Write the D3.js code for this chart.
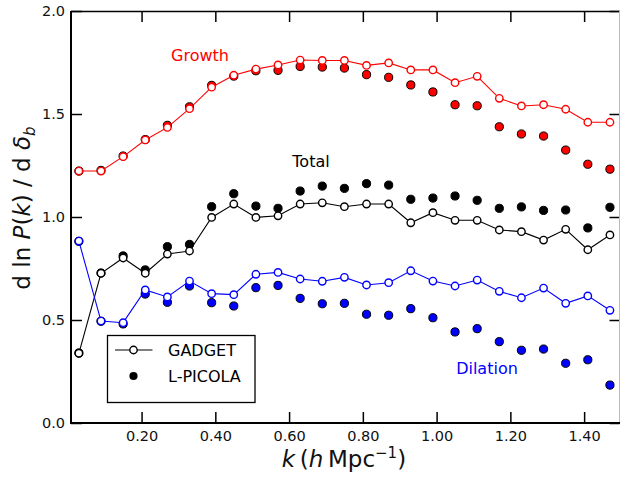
<!DOCTYPE html>
<html>
<head>
<meta charset="utf-8">
<script src="https://cdn.jsdelivr.net/npm/d3@7"></script>
<style>
  html, body { margin: 0; padding: 0; background: #fff; }
  svg { display: block; font-family: "DejaVu Sans", Verdana, sans-serif; }
</style>
</head>
<body>
<svg id="chart" width="620" height="479"></svg>
<script>
// Wavenumbers (h/Mpc)
const kValues = [0.03, 0.09, 0.15, 0.21, 0.27, 0.33, 0.39, 0.45, 0.51, 0.57, 0.63, 0.69, 0.75,
                 0.81, 0.87, 0.93, 0.99, 1.05, 1.11, 1.17, 1.23, 1.29, 1.35, 1.41, 1.47];

// Response of ln P(k) to the background overdensity
const gadgetGrowth   = [1.223, 1.223, 1.293, 1.374, 1.435, 1.526, 1.630, 1.688, 1.718, 1.738, 1.762, 1.760, 1.760,
                        1.736, 1.748, 1.714, 1.714, 1.652, 1.683, 1.576, 1.539, 1.545, 1.523, 1.460, 1.460];
const picolaGrowth   = [1.223, 1.226, 1.296, 1.376, 1.445, 1.535, 1.639, 1.684, 1.710, 1.712, 1.731, 1.728, 1.723,
                        1.691, 1.678, 1.641, 1.607, 1.545, 1.540, 1.438, 1.403, 1.393, 1.325, 1.256, 1.232];
const gadgetTotal    = [0.338, 0.727, 0.801, 0.727, 0.820, 0.835, 0.998, 1.063, 0.998, 1.006, 1.063, 1.069, 1.050,
                        1.063, 1.063, 0.972, 1.021, 0.984, 0.984, 0.937, 0.929, 0.888, 0.940, 0.841, 0.913];
const picolaTotal    = [0.340, 0.728, 0.811, 0.743, 0.856, 0.867, 1.050, 1.113, 1.053, 1.042, 1.126, 1.150, 1.139,
                        1.162, 1.155, 1.086, 1.092, 1.102, 1.081, 1.042, 1.049, 1.032, 1.034, 0.947, 1.047];
const gadgetDilation = [0.883, 0.495, 0.487, 0.646, 0.612, 0.689, 0.628, 0.623, 0.722, 0.731, 0.699, 0.688, 0.707,
                        0.670, 0.681, 0.739, 0.689, 0.665, 0.694, 0.639, 0.608, 0.655, 0.581, 0.617, 0.547];
const picolaDilation = [0.882, 0.494, 0.481, 0.626, 0.586, 0.665, 0.584, 0.568, 0.657, 0.668, 0.605, 0.579, 0.581,
                        0.528, 0.523, 0.555, 0.511, 0.442, 0.458, 0.395, 0.353, 0.359, 0.290, 0.307, 0.184];

const xTicks = [0.2, 0.4, 0.6, 0.8, 1.0, 1.2, 1.4];
const xTickLabels = ["0.20", "0.40", "0.60", "0.80", "1.00", "1.20", "1.40"];
const yTicks = [0.0, 0.5, 1.0, 1.5, 2.0];
const yTickLabels = ["0.0", "0.5", "1.0", "1.5", "2.0"];

const seriesNames = ["Growth", "Total", "Dilation"];
const seriesColors = ["#ff0000", "#000000", "#0000ff"];
const legendLabels = ["GADGET", "L-PICOLA"];

const series = [
  { name: seriesNames[0], color: seriesColors[0], gadget: gadgetGrowth,   picola: picolaGrowth },
  { name: seriesNames[1], color: seriesColors[1], gadget: gadgetTotal,    picola: picolaTotal },
  { name: seriesNames[2], color: seriesColors[2], gadget: gadgetDilation, picola: picolaDilation }
];

const svg = d3.select("#chart");
const plotLeft = 71, plotRight = 619.5, plotTop = 11, plotBottom = 423;

const x = d3.scaleLinear().domain([0.01, 1.50]).range([71.5, 621]);
const y = d3.scaleLinear().domain([0, 2]).range([plotBottom, plotTop]);

// Axes with inward ticks on all four sides
const axB = svg.append("g").attr("transform", `translate(0,${plotBottom})`)
  .call(d3.axisBottom(x).tickValues(xTicks).tickFormat((d, i) => xTickLabels[i])
        .tickSizeInner(-11).tickSizeOuter(0).tickPadding(8));
const axT = svg.append("g").attr("transform", `translate(0,${plotTop})`)
  .call(d3.axisTop(x).tickValues(xTicks).tickFormat("").tickSizeInner(-11).tickSizeOuter(0));
const axL = svg.append("g").attr("transform", `translate(${plotLeft},0)`)
  .call(d3.axisLeft(y).tickValues(yTicks).tickFormat((d, i) => yTickLabels[i])
        .tickSizeInner(-11).tickSizeOuter(0).tickPadding(6));
const axR = svg.append("g").attr("transform", `translate(${plotRight},0)`)
  .call(d3.axisRight(y).tickValues(yTicks).tickFormat("").tickSizeInner(-10).tickSizeOuter(0));

[axB, axT, axL, axR].forEach(a => {
  a.select(".domain").remove();
  a.selectAll(".tick line").attr("stroke", "#000").attr("stroke-width", 1.5);
  a.selectAll(".tick text").attr("font-size", 14.5).attr("fill", "#111")
    .attr("font-family", "'DejaVu Sans', Verdana, sans-serif");
});

// Frame
svg.append("line").attr("x1", plotLeft).attr("x2", 620).attr("y1", plotTop + 0.5).attr("y2", plotTop + 0.5)
  .attr("stroke", "#000").attr("stroke-width", 1.5);
svg.append("line").attr("x1", plotRight).attr("x2", plotRight).attr("y1", plotTop).attr("y2", plotBottom)
  .attr("stroke", "#bbb").attr("stroke-width", 1);
svg.append("line").attr("x1", plotLeft).attr("x2", plotLeft).attr("y1", plotTop).attr("y2", plotBottom + 1)
  .attr("stroke", "#000").attr("stroke-width", 2);
svg.append("line").attr("x1", plotLeft - 1).attr("x2", 620).attr("y1", plotBottom).attr("y2", plotBottom)
  .attr("stroke", "#000").attr("stroke-width", 2);

const plot = svg.append("g");

// L-PICOLA: filled markers
series.forEach(s => {
  plot.append("g").selectAll("circle").data(s.picola).join("circle")
    .attr("cx", (d, i) => x(kValues[i])).attr("cy", d => y(d)).attr("r", 4.1)
    .attr("fill", s.color).attr("stroke", "#000").attr("stroke-width", 1);
});

// GADGET: connected open markers
const line = d3.line().x((d, i) => x(kValues[i])).y(d => y(d));
series.forEach(s => {
  plot.append("path").datum(s.gadget).attr("d", line)
    .attr("fill", "none").attr("stroke", s.color).attr("stroke-width", 1.1);
});
series.forEach(s => {
  plot.append("g").selectAll("circle").data(s.gadget).join("circle")
    .attr("cx", (d, i) => x(kValues[i])).attr("cy", d => y(d)).attr("r", 3.7)
    .attr("fill", "#fff").attr("stroke", s.color).attr("stroke-width", 1.4);
});

// Series labels
const labelPos = [[200, 60.5], [311, 167], [487, 374]];
series.forEach((s, i) => {
  svg.append("text").attr("x", labelPos[i][0]).attr("y", labelPos[i][1])
    .attr("text-anchor", "middle").attr("font-size", 16).attr("fill", s.color).text(s.name);
});

// Legend
const lg = svg.append("g");
lg.append("rect").attr("x", 107.5).attr("y", 335.5).attr("width", 147.5).attr("height", 67)
  .attr("fill", "#fff").attr("stroke", "#000").attr("stroke-width", 1.3);
lg.append("line").attr("x1", 115).attr("x2", 152.5).attr("y1", 350).attr("y2", 350)
  .attr("stroke", "#000").attr("stroke-width", 1.1);
lg.append("circle").attr("cx", 133.5).attr("cy", 350).attr("r", 3.7)
  .attr("fill", "#fff").attr("stroke", "#000").attr("stroke-width", 1.4);
lg.append("circle").attr("cx", 133.5).attr("cy", 376).attr("r", 4.1).attr("fill", "#000");
lg.append("text").attr("x", 168).attr("y", 356).attr("font-size", 16).text(legendLabels[0]);
lg.append("text").attr("x", 168).attr("y", 382).attr("font-size", 16).text(legendLabels[1]);

// Axis titles
const xt = svg.append("text").attr("x", 344).attr("y", 467).attr("text-anchor", "middle")
  .attr("font-size", 23).attr("fill", "#111");
xt.append("tspan").attr("font-style", "italic").text("k");
xt.append("tspan").text("\u2009(");
xt.append("tspan").attr("font-style", "italic").text("h");
xt.append("tspan").text("\u2009Mpc");
xt.append("tspan").attr("font-size", 15).attr("dy", -9).text("\u22121");
xt.append("tspan").attr("dy", 9).text(")");

const yt = svg.append("text").attr("transform", "translate(30,208) rotate(-90)")
  .attr("text-anchor", "middle").attr("font-size", 23).attr("fill", "#111");
yt.append("tspan").text("d ln ");
yt.append("tspan").attr("font-style", "italic").text("P");
yt.append("tspan").text("(");
yt.append("tspan").attr("font-style", "italic").text("k");
yt.append("tspan").text(") / d ");
yt.append("tspan").attr("font-style", "italic").text("\u03b4");
yt.append("tspan").attr("font-style", "italic").attr("font-size", 15).attr("dy", 5).text("b");
</script>
</body>
</html>
